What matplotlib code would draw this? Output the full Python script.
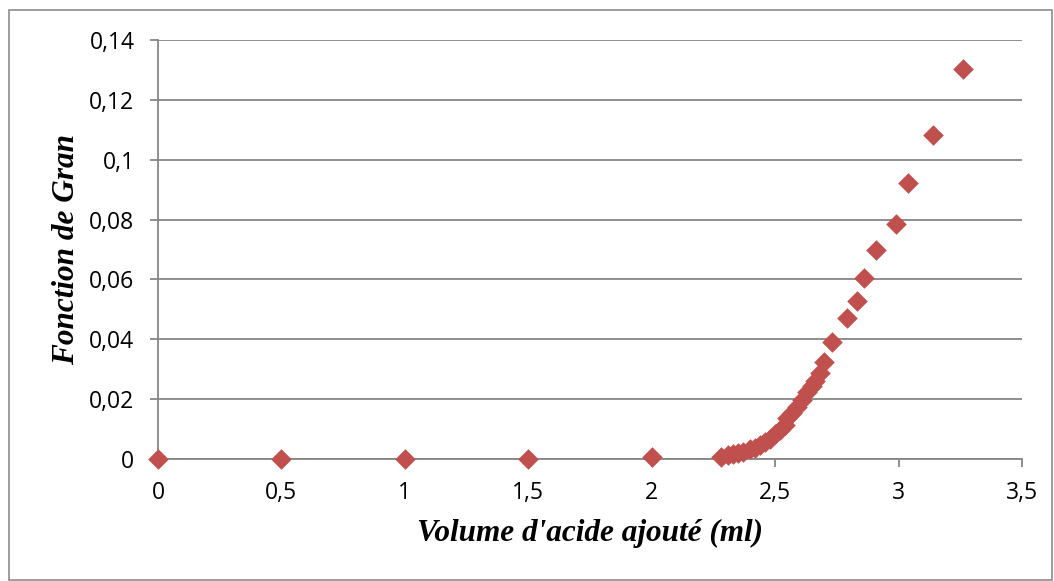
import matplotlib.pyplot as plt
from matplotlib.patches import Rectangle
from matplotlib.ticker import FuncFormatter

# volume d'acide ajouté (ml) et fonction de Gran
volume = [0, 0.5, 1.0, 1.5, 2.0,
          2.28, 2.31, 2.33, 2.35, 2.37, 2.40, 2.42, 2.44, 2.46, 2.48,
          2.50, 2.52, 2.54, 2.55, 2.57, 2.59, 2.61, 2.63, 2.65, 2.66,
          2.68, 2.70, 2.73, 2.79, 2.83, 2.86, 2.91, 2.99, 3.04, 3.14, 3.26]
gran = [0, 0, 0, 0, 0.0005,
        0.0007, 0.0012, 0.0016, 0.0020, 0.0025, 0.0032, 0.0038, 0.0046, 0.0056, 0.0068,
        0.0082, 0.0097, 0.0115, 0.0137, 0.0155, 0.0175, 0.0198, 0.0225, 0.0245, 0.0260,
        0.0288, 0.0325, 0.0392, 0.0472, 0.0529, 0.0606, 0.0697, 0.0784, 0.0921, 0.1082, 0.1303]

xticks = [0, 0.5, 1, 1.5, 2, 2.5, 3, 3.5]
yticks = [0, 0.02, 0.04, 0.06, 0.08, 0.1, 0.12, 0.14]

fig = plt.figure(figsize=(10.54, 5.81), dpi=100)
ax = fig.add_axes([0.1499, 0.21, 0.8197, 0.7212])

# cadre extérieur du graphique
fig.patches.append(Rectangle((0.0085, 0.002), 0.99, 0.981, transform=fig.transFigure,
                             fill=False, edgecolor='#8c8c8c', linewidth=1.2))

grid_col = '#868686'
ax.scatter(volume, gran, marker='D', s=110, color='#C0504D', zorder=3,
           linewidths=0, clip_on=False)

ax.set_xlim(0, 3.5)
ax.set_ylim(0, 0.14)
ax.set_xticks(xticks)
ax.set_yticks(yticks)

def virgule(v, pos):
    s = ('%g' % round(v, 2))
    return s.replace('.', ',')

ax.xaxis.set_major_formatter(FuncFormatter(virgule))
ax.yaxis.set_major_formatter(FuncFormatter(virgule))

ax.yaxis.grid(True, color=grid_col, linewidth=1.3)
ax.set_axisbelow(True)
for side in ['top', 'right']:
    ax.spines[side].set_visible(False)
for side in ['left', 'bottom']:
    ax.spines[side].set_color(grid_col)
    ax.spines[side].set_linewidth(1.3)
ax.tick_params(axis='both', colors=grid_col, labelcolor='black', labelsize=16.5,
               length=6, width=1.3)
ax.tick_params(axis='x', pad=10)
ax.tick_params(axis='y', pad=11)
for lab in ax.get_xticklabels() + ax.get_yticklabels():
    lab.set_fontfamily('Open Sans')

ax.set_xlabel("Volume d'acide ajouté (ml)", fontfamily='Liberation Serif',
              fontstyle='italic', fontweight='bold', fontsize=22.5, labelpad=10)
ax.set_ylabel('Fonction de Gran', fontfamily='Liberation Serif',
              fontstyle='italic', fontweight='bold', fontsize=22.5, labelpad=6)

fig.savefig('out.png', dpi=100)
